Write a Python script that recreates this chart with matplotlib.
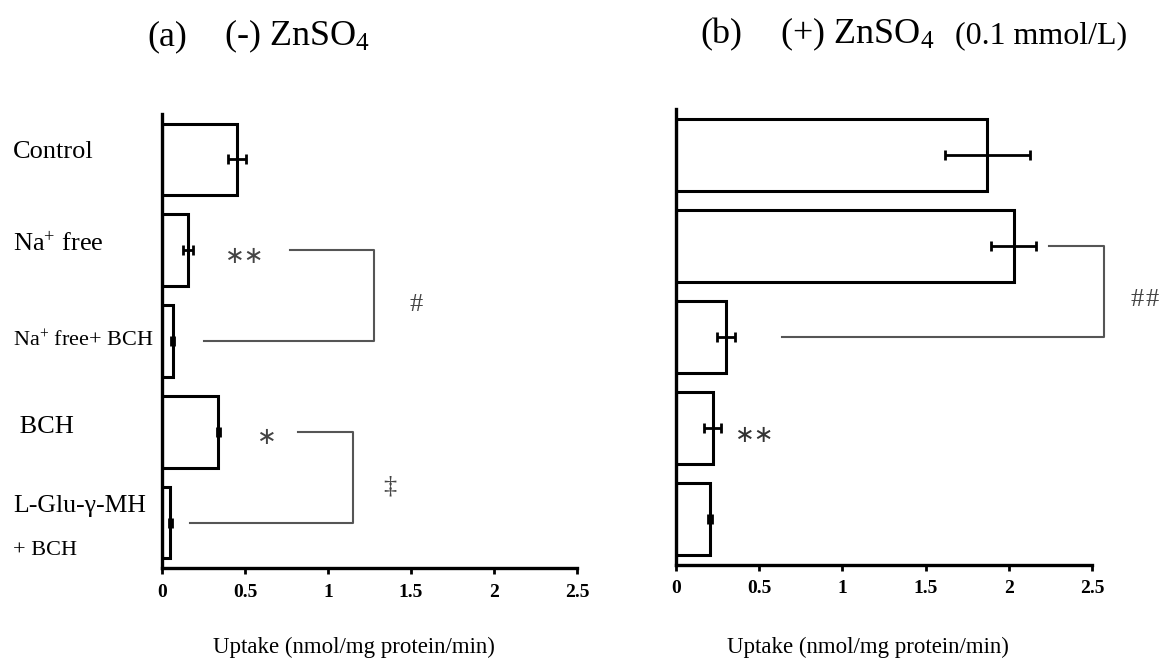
import numpy as np
import matplotlib
matplotlib.use('Agg')
import matplotlib.pyplot as plt
from matplotlib import transforms

plt.rcParams['font.family'] = ['Liberation Serif', 'DejaVu Serif']
plt.rcParams['mathtext.fontset'] = 'custom'
plt.rcParams['mathtext.rm'] = 'Liberation Serif'
plt.rcParams['mathtext.it'] = 'Liberation Serif:italic'

# ---- data ----
conditions = ["Control", "Na+ free", "Na+ free+ BCH", "BCH", "L-Glu-γ-MH + BCH"]
uptake_minus = [0.45, 0.155, 0.065, 0.34, 0.05]     # (-) ZnSO4
err_minus = [0.055, 0.03, 0.01, 0.01, 0.01]
uptake_plus = [1.87, 2.03, 0.30, 0.22, 0.205]       # (+) ZnSO4 0.1 mmol/L
err_plus = [0.255, 0.135, 0.055, 0.053, 0.01]
x_ticks = [0, 0.5, 1, 1.5, 2, 2.5]
x_ticklabels = ["0", "0.5", "1", "1.5", "2", "2.5"]

# 行标签 (文字, 行号, y 偏移, 字号)
row_labels = [
    ("Control", 0, -0.08, 19),
    ("Na$^{+}$ free", 1, -0.06, 19),
    ("Na$^{+}$ free+ BCH", 2, 0.0, 16),
    (" BCH", 3, -0.05, 19),
    ("L-Glu-γ-MH", 4, -0.18, 18.5),
    ("+ BCH", 4, 0.31, 16),
]

# 显著性括号: (panel, bar_i, bar_j, x_start_i, x_start_j, x_right, mark, mark_x, right_marks, right_x)
brackets = [
    (0, 1, 2, 0.77, 0.25, 1.28, "∗∗", 0.50, ["#"], [1.53]),
    (0, 3, 4, 0.82, 0.17, 1.15, "∗", 0.63, ["‡"], [1.37]),
    (1, 1, 2, 2.24, 0.635, 2.57, None, None, ["#", "#"], [2.77, 2.86]),
]
extra_marks = [(1, 3, "∗∗", 0.475)]

fig = plt.figure(figsize=(11.63, 6.61), dpi=100)
ax_a = fig.add_axes([162 / 1163, 1 - 568 / 661, 415 / 1163, 454 / 661])
ax_b = fig.add_axes([676 / 1163, 1 - 564.5 / 661, 416 / 1163, 455.5 / 661])

ypos = np.arange(len(conditions))
for ax, vals, errs in [(ax_a, uptake_minus, err_minus), (ax_b, uptake_plus, err_plus)]:
    ax.barh(ypos, vals, height=0.79, color='white', edgecolor='black', linewidth=2.2)
    ax.errorbar(vals, ypos, xerr=errs, fmt='none', ecolor='black',
                elinewidth=2.0, capsize=3.4, capthick=2.0)
    ax.set_xlim(0, 2.5)
    ax.set_ylim(len(conditions) - 0.5, -0.5)
    ax.set_yticks([])
    ax.set_xticks(x_ticks)
    ax.set_xticklabels(x_ticklabels, fontsize=14, fontweight='bold')
    ax.tick_params(axis='x', direction='out', length=4.5, width=2.0, pad=7)
    for s in ['top', 'right']:
        ax.spines[s].set_visible(False)
    for s in ['left', 'bottom']:
        ax.spines[s].set_linewidth(2.4)

# 行标签
trans = transforms.blended_transform_factory(fig.transFigure, ax_a.transData)
for text, i, dy, size in row_labels:
    ax_a.text(13 / 1163, i + dy, text, transform=trans, ha='left', va='center',
              fontsize=size, clip_on=False)

# 显著性括号
axes = [ax_a, ax_b]
line_kw = dict(color='#555555', linewidth=1.5, clip_on=False)
for p, i, j, xi, xj, xr, m1, m1x, m2s, m2xs in brackets:
    ax = axes[p]
    ax.plot([xi, xr, xr, xj], [i, i, j, j], **line_kw)
    if m1:
        ax.text(m1x, i + 0.06, m1, ha='center', va='center', fontsize=17,
                family='DejaVu Sans', color='#444444', clip_on=False)
    for m2, m2x in zip(m2s, m2xs):
        ax.text(m2x, (i + j) / 2 + 0.1, m2, ha='center', va='center', fontsize=19,
                color='#444444', clip_on=False)
for p, i, m, mx in extra_marks:
    axes[p].text(mx, i + 0.08, m, ha='center', va='center', fontsize=17,
                 family='DejaVu Sans', color='#333333', clip_on=False)

# 标题
fig.text(147 / 1163, 1 - 45 / 661, "(a)", fontsize=26, va='baseline')
fig.text(224 / 1163, 1 - 45 / 661, "(-) ZnSO$_4$", fontsize=26, va='baseline')
fig.text(700 / 1163, 1 - 43 / 661, "(b)", fontsize=26, va='baseline')
fig.text(780 / 1163, 1 - 43 / 661, "(+) ZnSO$_4$", fontsize=26, va='baseline')
fig.text(955 / 1163, 1 - 43 / 661, "(0.1 mmol/L)", fontsize=23, va='baseline')

# x 轴标题
fig.text(354 / 1163, 1 - 647 / 661, "Uptake (nmol/mg protein/min)", fontsize=16.5,
         ha='center', va='center')
fig.text(868 / 1163, 1 - 647 / 661, "Uptake (nmol/mg protein/min)", fontsize=16.5,
         ha='center', va='center')

fig.savefig("out.png", dpi=100, facecolor='white')
